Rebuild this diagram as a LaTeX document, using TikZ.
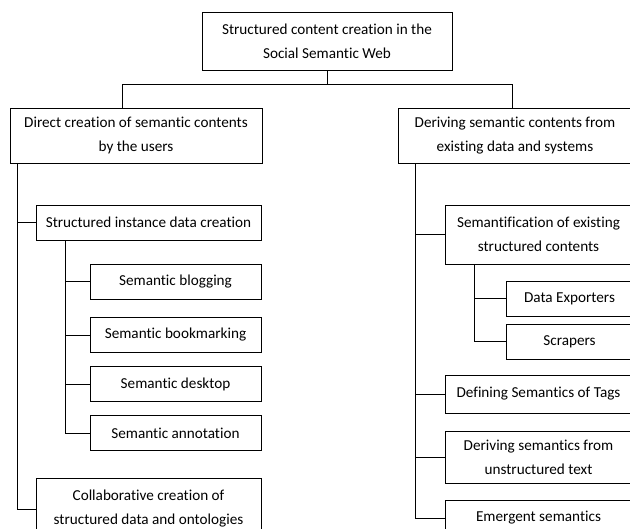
\documentclass[tikz,border=0pt]{standalone}
\usepackage{fontspec}
\setmainfont{Carlito}[Ligatures=NoCommon]
\usetikzlibrary{calc}
\tikzset{box/.style 2 args={draw, line width=0.75pt, inner sep=0pt, align=center,
    minimum width=#1*0.75pt, minimum height=#2*0.75pt,
    font=\fontsize{11.4}{18}\selectfont}}

\begin{document}
\begin{tikzpicture}[x=0.75pt, y=-0.75pt, line width=0.75pt]
\useasboundingbox (0,0) rectangle (630,528);
\clip (0,0) rectangle (630,528);

% top levels
\node[box={250}{57}] (root) at (327,41.5) {Structured content creation in the\\Social Semantic Web};
\node[box={252}{55}] (direct) at (136,135.5) {Direct creation of semantic contents\\by the users};
\node[box={234}{55}] (derive) at (515,135.5) {Deriving semantic contents from\\existing data and systems};

\draw (root.south) -- ++(0,14) coordinate (bar);
\draw ($(direct.north)+(-14,0)$) |- (bar) -| ($(derive.north)+(-3,0)$);

% left branch
\node[box={225}{35}] (sidc) at (148.5,222.5) {Structured instance data creation};
\node[box={171}{35}] (blog) at (175.5,281.5) {Semantic blogging};
\node[box={171}{35}] (book) at (175.5,335) {Semantic bookmarking};
\node[box={171}{35}] (desk) at (175.5,384) {Semantic desktop};
\node[box={171}{35}] (anno) at (175.5,433) {Semantic annotation};
\node[box={225}{62}] (collab) at (148.5,509) {Collaborative creation of\\structured data and ontologies};

\foreach \n in {sidc,collab}
	\draw ($(direct.south west)+(8,0)$) |- (\n.west);
\foreach \n in {blog,book,desk,anno}
	\draw ($(sidc.south west)+(30,0)$) |- (\n.west);

% right branch
\node[box={187}{59}] (seman) at (538.5,234.5) {Semantification of existing\\structured contents};
\node[box={127}{35}] (export) at (569.5,298.5) {Data Exporters};
\node[box={127}{35}] (scrap) at (569.5,341.5) {Scrapers};
\node[box={187}{38}] (tags) at (538.5,394) {Defining Semantics of Tags};
\node[box={187}{52}] (unstr) at (538.5,457) {Deriving semantics from\\unstructured text};
\node[box={187}{36}] (emerg) at (538.5,518) {Emergent semantics};

\foreach \n in {seman,tags,unstr,emerg}
	\draw ($(derive.south west)+(18,0)$) |- (\n.west);
\foreach \n in {export,scrap}
	\draw ($(seman.south west)+(30,0)$) |- (\n.west);
\end{tikzpicture}
\end{document}
